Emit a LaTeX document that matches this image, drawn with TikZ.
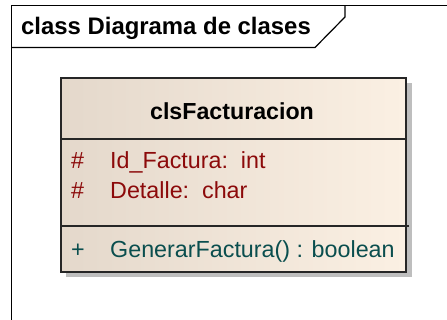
\documentclass[tikz,border=0pt]{standalone}
\usepackage{fontspec}
\setmainfont{Liberation Sans}
\definecolor{attrred}{RGB}{140,10,10}
\definecolor{methteal}{RGB}{10,78,78}
\definecolor{boxleft}{RGB}{228,216,203}
\definecolor{boxright}{RGB}{251,240,227}
\definecolor{shadowgray}{RGB}{190,190,190}
\begin{document}
\begin{tikzpicture}[x=1pt,y=-1pt,
  framestyle/.style={draw=black,line width=1.2pt},
  boxline/.style={draw=black!85,line width=1.6pt},
  txt/.style={inner sep=0pt,anchor=base west,font=\fontsize{23.3}{26}\selectfont},
  attr/.style={txt,text=attrred},
  meth/.style={txt,text=methteal}]
\useasboundingbox (0,0) rectangle (447,320);
% frame
\coordinate (ftl) at (11.5,5.5);
\coordinate (ftr) at (447,5.5);
\coordinate (fbl) at (11.5,320);
\coordinate (tab1) at (345,5.5);
\coordinate (tab2) at (345,17);
\coordinate (tab3) at (315,47.5);
\coordinate (tab4) at (11.5,47.5);
\draw[framestyle] (fbl) -- (ftl) -- (ftr);
\draw[framestyle] (tab1) -- (tab2) -- (tab3) -- (tab4);
\node[txt,font=\bfseries\fontsize{23.9}{26}\selectfont] (title) at (21,34.5) {class Diagrama de clases};
% class box
\coordinate (btl) at (61,78);
\coordinate (bbr) at (406,272);
\fill[shadowgray] (66,83) rectangle (411.5,277.5);
\shade[left color=boxleft,middle color=boxright,right color=boxright] (btl) rectangle (bbr);
\draw[boxline] (btl) rectangle (bbr);
\coordinate (s1l) at (61,139);
\coordinate (s1r) at (406,139);
\coordinate (s2l) at (61,226);
\coordinate (s2r) at (408.5,226);
\draw[boxline] (s1l) -- (s1r);
\draw[boxline] (s2l) -- (s2r);
\node[txt,anchor=base,font=\bfseries\fontsize{23.2}{26}\selectfont] (cname) at (232,119.5) {clsFacturacion};
\node[attr] (v1) at (71,168.5) {\#};
\node[attr] (a1) at (110,168.5) {Id\_Factura:\ \ int};
\node[attr] (v2) at (71,198.5) {\#};
\node[attr] (a2) at (110,198.5) {Detalle:\ \ char};
\node[meth] (v3) at (71,257.5) {+};
\node[meth] (m1) at (110,257.5) {GenerarFactura() : boolean};
\end{tikzpicture}
\end{document}
